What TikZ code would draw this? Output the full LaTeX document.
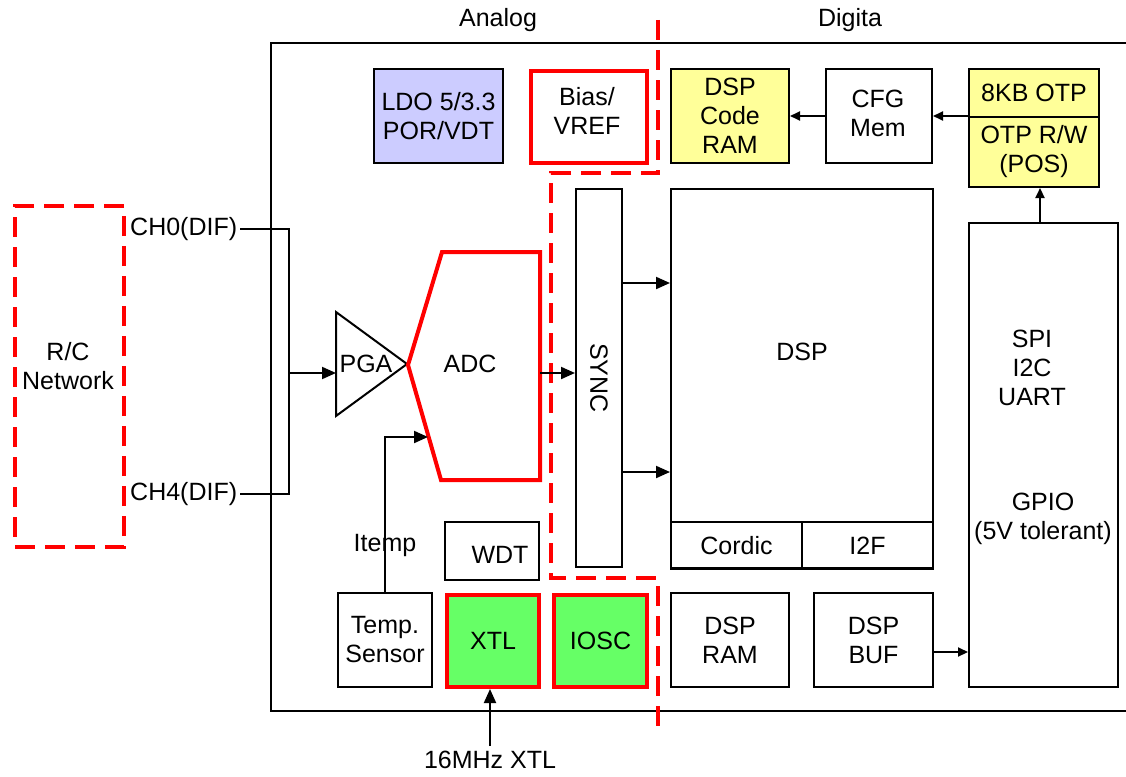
\documentclass[tikz,border=0pt]{standalone}
\usepackage{fontspec}
\setmainfont{Liberation Sans}
\usetikzlibrary{arrows.meta}
\definecolor{lav}{HTML}{CCCCFF}
\definecolor{ylw}{HTML}{FFFF99}
\definecolor{grn}{HTML}{66FF66}
\begin{document}
\begin{tikzpicture}[x=1pt,y=-1pt,
 every node/.style={font=\fontsize{25}{29}\selectfont, align=center, inner sep=0pt},
 blk/.style={draw=black, line width=2pt, anchor=north west},
 redblk/.style={draw=red, line width=4pt, anchor=north west},
 reddash/.style={draw=red, line width=4pt, dash pattern=on 20pt off 10pt},
 wire/.style={line width=2pt},
 arr/.style={line width=2pt, -{Triangle[length=14pt,width=12pt]}},
 sarr/.style={line width=2pt, -{Triangle[length=10pt,width=9pt]}},
]
\useasboundingbox (0,0) rectangle (1126,776);
% chip outline
\draw[wire] (1135,43) -- (271,43) -- (271,711) -- (1135,711);
% headers
\node (analog) at (498,20) {Analog};
\node (digita) at (850,20) {Digita};
% divider
\draw[reddash] (658,20) -- (658,173) -- (551,173) -- (551,578) -- (658,578) -- (658,735);
% R/C network
\node[reddash, anchor=north west, minimum width=109pt, minimum height=341pt] (rc) at (13,204) {};
\node (rctxt) at (68,366) {R/C\\Network};
\node[anchor=west, inner xsep=3pt] (ch0) at (127,229) {CH0(DIF)};
\node[anchor=west, inner xsep=3pt] (ch4) at (127,494) {CH4(DIF)};
% top row
\node[blk, fill=lav, minimum width=129pt, minimum height=94pt] (ldo) at (373,68) {LDO 5/3.3\\POR/VDT};
\node[redblk, fill=white, minimum width=116pt, minimum height=92pt] (bias) at (529,69) {};
\node (biastxt) at (587,111) {Bias/\\VREF};
\node[blk, fill=ylw, minimum width=118pt, minimum height=94pt] (dcram) at (670,68) {DSP\\Code\\RAM};
\node[blk, minimum width=106pt, minimum height=94pt] (cfg) at (825,68) {};
\node (cfgtxt) at (878,113) {CFG\\Mem};
\node[blk, fill=ylw, minimum width=130pt, minimum height=48pt] (otp) at (968,68) {8KB OTP};
\node[blk, fill=ylw, minimum width=130pt, minimum height=70pt] (otprw) at (968,116) {OTP R/W\\(POS)};
% PGA and ADC
\draw[wire, line join=miter] (336,312) -- (407,364) -- (336,416) -- cycle;
\node (pga) at (366,364) {PGA};
\draw[red, line width=4pt, line join=miter] (442,252) -- (540,252) -- (540,480) -- (441,480) -- (408,365) -- cycle;
\node (adc) at (470,364) {ADC};
\coordinate (bus) at (289,373);
\coordinate (pgain) at (336,373);
\coordinate (adcout) at (540,373);
\coordinate (adcin) at (428,437);
% SYNC and DSP
\node[blk, minimum width=46pt, minimum height=378pt] (sync) at (575,188) {};
\node[rotate=-90] (synctxt) at (sync.center) {SYNC};
\node[blk, minimum width=262pt, minimum height=379pt] (dsp) at (670,188) {};
\node (dsptxt) at (802,352) {DSP};
\node[blk, minimum width=131pt, minimum height=47pt] (cordic) at (670,521) {Cordic};
\node[blk, minimum width=131pt, minimum height=47pt] (i2f) at (801,521) {I2F};
% right column
\node[blk, minimum width=149pt, minimum height=464pt] (spi) at (968,222) {};
\node (spitxt) at (1032,368) {SPI\\I2C\\UART};
\node (gpiotxt) at (1043,519) {GPIO\\(5V tolerant)};
% bottom row
\node[blk, minimum width=94pt, minimum height=58pt] (wdt) at (444,521) {};
\node (wdttxt) at (500,555) {WDT};
\node[blk, minimum width=94pt, minimum height=94pt] (temp) at (337,592) {Temp.\\Sensor};
\node[redblk, fill=grn, minimum width=92pt, minimum height=92pt] (xtl) at (445,593) {XTL};
\node[redblk, fill=grn, minimum width=93pt, minimum height=92pt] (iosc) at (552,593) {IOSC};
\node[blk, minimum width=118pt, minimum height=94pt] (dspram) at (670,592) {DSP\\RAM};
\node[blk, minimum width=119pt, minimum height=94pt] (dspbuf) at (813,592) {DSP\\BUF};
\node (itemp) at (385,545) {Itemp};
\node (xtaltxt) at (490,760) {16MHz XTL};
% connectors
\draw[wire] (ch0.east) -| (bus) |- (ch4.east);
\draw[arr] (bus) -- (pgain);
\draw[arr] (adcout) -- (adcout -| sync.west);
\draw[arr] (temp.north) |- (adcin);
\draw[arr] (sync.east |- 0,283) -- (dsp.west |- 0,283);
\draw[arr] (sync.east |- 0,472) -- (dsp.west |- 0,472);
\draw[sarr] (cfg.west) -- (dcram.east |- cfg.west);
\draw[sarr] (otprw.north west) -- (otprw.north west -| cfg.east);
\draw[sarr] (spi.north -| 1040,0) -- (otprw.south -| 1040,0);
\draw[sarr] (dspbuf.east |- 0,652) -- (spi.west |- 0,652);
\draw[arr] (490,746) -- (xtl.south -| 490,0);
\end{tikzpicture}
\end{document}
